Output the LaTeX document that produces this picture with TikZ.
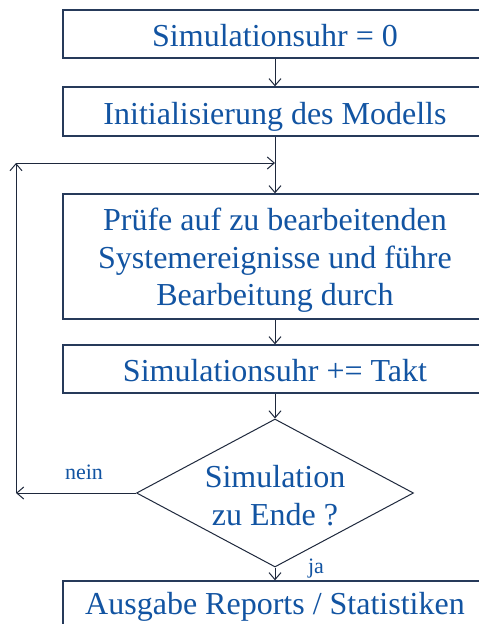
\documentclass[tikz,border=0pt]{standalone}
\usepackage{fontspec}
\setmainfont{Liberation Serif}
\usetikzlibrary{shapes.geometric,arrows.meta}
\definecolor{txtblue}{RGB}{18,84,162}
\definecolor{edge}{RGB}{38,58,90}
\definecolor{wire}{RGB}{30,40,60}
\tikzset{
  stepbox/.style={draw=edge, line width=1.3pt, rectangle, minimum width=424pt,
    inner sep=0pt, text=txtblue, font=\fontsize{32}{37.5}\selectfont,
    text height=25pt, text depth=0pt},
  multibox/.style={draw=edge, line width=1.3pt, rectangle, minimum width=424pt,
    inner sep=0pt, text=txtblue, font=\fontsize{32}{37.5}\selectfont, align=center},
  decision/.style={draw=wire, line width=1pt, diamond, minimum width=277pt,
    minimum height=148pt, aspect=1.87, inner sep=0pt, text=txtblue,
    font=\fontsize{32}{38}\selectfont, align=center},
  lbl/.style={text=txtblue, font=\fontsize{22}{24}\selectfont, inner sep=0pt, anchor=base},
  arr/.style={draw=wire, line width=1pt, -{Straight Barb[length=7pt,width=12pt]}},
  plain/.style={draw=wire, line width=1pt}
}
\begin{document}
\begin{tikzpicture}[x=1pt,y=-1pt]
\clip (0,0) rectangle (479,624);
\fill[white] (0,0) rectangle (479,624);
\node[stepbox, minimum height=48pt] (b1) at (275,34) {Simulationsuhr = 0};
\node[stepbox, minimum height=49pt] (b2) at (275,111.5) {Initialisierung des Modells};
\node[multibox, minimum height=125pt] (b3) at (275,256.5) {\rule{0pt}{30pt}Prüfe auf zu bearbeitenden\\Systemereignisse und führe\\Bearbeitung durch};
\node[stepbox, minimum height=48pt] (b4) at (275,369) {Simulationsuhr += Takt};
\node[decision] (d) at (275,493) {\rule{0pt}{28pt}Simulation\\zu Ende ?};
\node[stepbox, minimum height=50pt, text height=16pt] (b5) at (275,606) {Ausgabe Reports / Statistiken};
\node[lbl] (nein) at (84,479) {nein};
\node[lbl] (ja) at (316,573) {ja};
\coordinate (c1) at (16,493);
\coordinate (c2) at (16,163);
\coordinate (c3) at (275,163);
\draw[arr] (b1.south) -- (b2.north);
\draw[arr] (b2.south) -- (b3.north);
\draw[arr] (b3.south) -- (b4.north);
\draw[arr] (b4.south) -- (d.north);
\draw[arr] (d.south) -- (b5.north);
\draw[arr] (d.west) -- (c1);
\draw[arr] (c1) -- (c2);
\draw[arr] (c2) -- (c3);
\end{tikzpicture}
\end{document}
